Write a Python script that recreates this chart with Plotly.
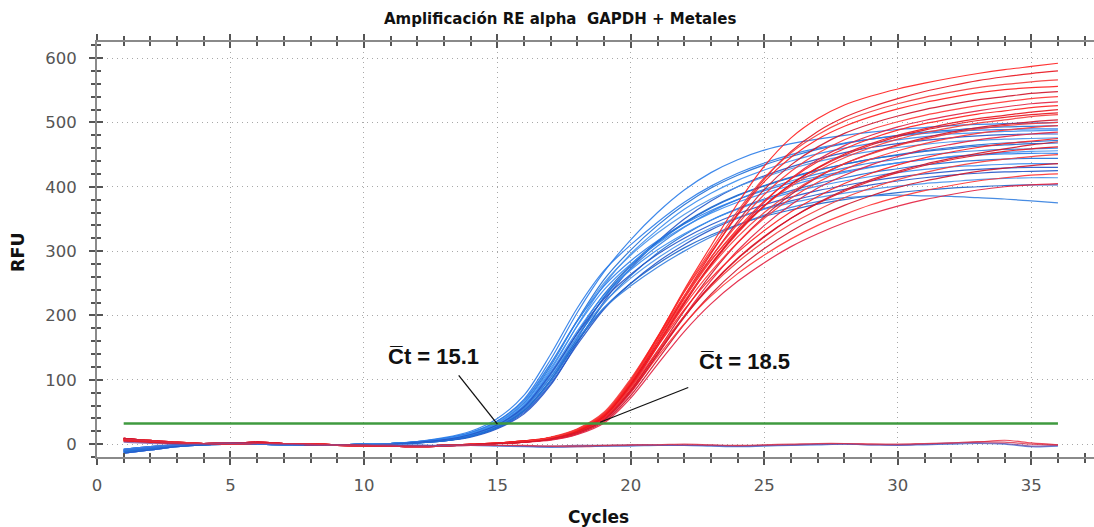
import plotly.graph_objects as go

# Amplification runs: RFU per cycle (cycles 1..36)
cycles = list(range(1, 37))

blue_runs = [
    [-10,-6,-2,0,1,0,-1,-1,-2,-1,1, 4,9,18,36,70,132,205,268,318,360,395,422,442,457,467,474,480,485,489,492,495,497,498,499,500],
    [-12,-7,-3,-1,1,1,0,-1,-1,0,1, 3,8,16,33,64,122,193,256,302,340,372,398,418,434,447,458,467,474,480,485,488,491,493,494,495],
    [-8,-4,-1,1,2,1,0,0,-1,0,1, 3,7,15,31,60,115,185,248,296,333,365,390,410,426,440,451,460,467,473,478,482,484,486,487,488],
    [-14,-9,-4,-1,0,1,0,-1,-2,-1,0, 2,5,11,24,47,92,158,222,274,315,350,378,400,417,431,443,453,461,467,472,476,479,481,482,482],
    [-10,-6,-2,0,1,0,-1,-1,-2,-1,1, 3,8,17,34,66,124,192,251,294,328,357,381,400,415,428,439,448,455,461,466,470,472,474,475,476],
    [-12,-7,-3,-1,1,1,0,-1,-1,0,1, 3,6,14,29,57,108,173,233,279,315,344,368,387,402,415,426,435,443,449,455,459,463,465,467,468],
    [-8,-4,-1,1,2,1,0,0,-1,0,1, 2,6,13,28,55,104,168,228,273,308,337,361,380,396,409,420,429,437,443,449,453,456,458,459,460],
    [-14,-9,-4,-1,0,1,0,-1,-2,-1,0, 4,9,18,36,68,126,192,246,285,316,342,363,380,394,406,416,424,431,437,442,446,449,451,452,452],
    [-10,-6,-2,0,1,0,-1,-1,-2,-1,1, 2,5,12,26,51,97,160,219,262,297,325,348,366,381,394,405,414,422,428,434,438,441,443,444,444],
    [-12,-7,-3,-1,1,1,0,-1,-1,0,1, 3,7,15,31,60,112,176,232,271,302,327,348,365,379,391,401,409,416,422,427,431,433,435,436,436],
    [-8,-4,-1,1,2,1,0,0,-1,0,1, 2,5,12,25,49,94,155,210,250,283,310,333,351,366,378,388,396,403,409,414,418,421,423,424,425],
    [-14,-9,-4,-1,0,1,0,-1,-2,-1,0, 3,7,15,30,58,108,168,220,258,289,315,336,352,365,375,383,390,396,401,405,408,411,413,414,414],
    [-10,-6,-2,0,1,0,-1,-1,-2,-1,1, 2,6,13,27,53,100,160,212,250,280,305,325,341,354,364,373,380,386,391,395,398,400,402,403,403],
    [-12,-7,-3,-1,1,1,0,-1,-1,0,1, 3,7,14,29,56,104,163,212,246,275,300,322,340,356,368,377,383,386,387,386,385,383,381,378,375],
    [-10,-6,-2,0,1,0,-1,-1,-2,-1,1, 4,10,20,40,76,140,212,270,310,345,376,401,421,437,450,460,468,474,479,483,486,488,489,490,490],
    [-12,-7,-3,-1,1,1,0,-1,-1,0,1, 2,5,12,26,52,100,165,229,277,313,343,367,386,401,414,425,435,443,450,456,461,465,468,470,472],
    [-8,-4,-1,1,2,1,0,0,-1,0,1, 3,8,16,33,63,118,184,240,280,312,338,359,376,390,402,413,422,430,437,442,447,450,453,455,456],
    [-14,-9,-4,-1,0,1,0,-1,-2,-1,0, 3,7,15,30,58,110,172,226,264,295,320,341,358,372,384,394,402,409,415,420,424,427,429,430,430],
]

red_runs = [
    [7,4,2,1,1,2,1,0,-1,-2,-3,-3,-2,-1,1,4, 10,22,46,98,166,240,308,374,432,476,506,527,541,552,561,569,576,582,587,592],
    [9,5,2,0,1,3,1,-1,-2,-2,-3,-4,-3,-1,1,3, 9,20,43,94,160,230,296,358,412,455,486,508,524,537,548,557,565,571,576,580],
    [5,3,1,1,2,2,0,0,-1,-1,-2,-3,-2,0,2,5, 10,22,47,100,167,238,302,362,414,453,481,502,517,529,539,547,554,559,563,566],
    [8,6,3,1,0,1,1,0,-2,-3,-3,-3,-2,-1,1,4, 9,21,44,94,160,228,290,346,396,434,462,483,498,510,520,528,535,540,545,548],
    [7,4,2,1,1,2,1,0,-1,-2,-3,-3,-2,-1,1,4, 10,23,48,99,164,230,290,342,388,424,452,473,489,501,511,519,526,532,537,540],
    [9,5,2,0,1,3,1,-1,-2,-2,-3,-4,-3,-1,1,3, 8,19,41,88,152,218,279,331,376,413,442,464,480,493,503,511,518,524,529,532],
    [5,3,1,1,2,2,0,0,-1,-1,-2,-3,-2,0,2,5, 10,22,46,96,160,226,285,335,378,412,439,459,475,488,498,506,513,518,523,526],
    [8,6,3,1,0,1,1,0,-2,-3,-3,-3,-2,-1,1,4, 9,20,42,90,154,219,278,328,370,404,430,451,467,480,490,499,506,511,516,520],
    [7,4,2,1,1,2,1,0,-1,-2,-3,-3,-2,-1,1,4, 11,24,50,102,166,230,286,332,370,401,425,445,461,474,484,492,499,504,509,512],
    [9,5,2,0,1,3,1,-1,-2,-2,-3,-4,-3,-1,1,3, 8,18,39,84,145,207,264,313,354,388,415,436,452,465,476,485,492,497,501,504],
    [5,3,1,1,2,2,0,0,-1,-1,-2,-3,-2,0,2,5, 9,21,44,92,154,215,268,313,351,382,407,427,443,456,467,476,483,488,492,495],
    [8,6,3,1,0,1,1,0,-2,-3,-3,-3,-2,-1,1,4, 7,17,37,80,139,199,254,301,340,372,398,418,434,447,458,466,473,478,482,485],
    [7,4,2,1,1,2,1,0,-1,-2,-3,-3,-2,-1,1,4, 10,22,45,93,152,209,258,298,332,361,385,405,421,434,445,454,461,467,471,475],
    [9,5,2,0,1,3,1,-1,-2,-2,-3,-4,-3,-1,1,3, 8,19,40,85,143,199,248,289,323,351,374,393,409,422,433,442,449,455,459,462],
    [5,3,1,1,2,2,0,0,-1,-1,-2,-3,-2,0,2,5, 9,20,42,88,145,199,245,283,315,342,364,383,398,411,422,431,438,443,447,450],
    [8,6,3,1,0,1,1,0,-2,-3,-3,-3,-2,-1,1,4, 7,16,35,76,131,186,233,272,304,331,353,371,386,399,409,417,424,429,433,436],
    [7,4,2,1,1,2,1,0,-1,-2,-3,-3,-2,-1,1,4, 8,18,39,82,136,187,230,265,294,319,340,357,372,384,394,402,409,414,418,420],
    [9,5,2,0,1,3,1,-1,-2,-2,-3,-4,-3,-1,1,3, 6,15,33,72,124,175,218,253,282,307,327,344,358,370,380,388,395,400,403,405],
    [7,4,2,1,1,2,1,0,-1,-2,-3,-3,-2,-1,1,4, 10,22,46,98,166,236,298,356,408,446,474,494,509,521,531,539,546,551,554,556],
    [5,3,1,1,2,2,0,0,-1,-1,-2,-3,-2,0,2,5, 9,20,43,92,156,221,280,330,371,404,429,449,465,478,488,496,503,508,512,515],
    [8,6,3,1,0,1,1,0,-2,-3,-3,-3,-2,-1,1,4, 10,23,48,98,160,222,276,322,360,391,416,436,451,464,474,483,490,495,498,500],
    [9,5,2,0,1,3,1,-1,-2,-2,-3,-4,-3,-1,1,3, 8,18,38,82,140,197,247,288,322,351,375,395,411,424,435,444,452,459,465,470],
]

# No-template controls that stay at baseline
control_runs = [
    [6,4,2,1,1,2,1,0,-1,-2,-3,-3,-2,-1,-2,-3,-4,-4,-3,-2,-2,-1,-2,-3,-2,-1,0,1,0,-1,0,1,3,6,2,-1],
    [-9,-5,-2,0,1,0,-1,-1,-2,-1,0,-1,-2,-2,-3,-4,-5,-4,-3,-3,-2,-2,-3,-4,-3,-2,-1,0,-1,-2,-1,0,1,0,-4,-3],
    [3,1,0,1,2,1,0,-1,-1,-2,-2,-3,-3,-2,-2,-3,-3,-2,-2,-1,-1,-2,-2,-3,-2,-1,0,0,-1,-1,0,2,2,1,-3,-2],
    [8,5,2,1,0,1,1,0,-2,-2,-3,-4,-3,-2,-2,-2,-3,-3,-2,-1,-1,0,-1,-2,-1,0,1,1,0,0,1,2,4,3,0,-1],
]
control_colors = ["#e8233a", "#3b6fd8", "#7a4a9e", "#d8304a"]

threshold_rfu = 32
threshold_span = [1, 36]
ct_labels = [("C\u0305t = 15.1", 15.1), ("C\u0305t = 18.5", 18.5)]

blue_palette = ["#2b7de9", "#1f6fd6", "#3a8df0", "#2456c8", "#4a94ea", "#1e63c9", "#3580e0"]
red_palette = ["#ff1e1e", "#e8141e", "#f53a3a", "#d0142a", "#ff3434", "#e42040"]

fig = go.Figure()

def add_run(run, color, opacity):
    fig.add_trace(go.Scatter(x=cycles, y=run, mode="lines",
                             line=dict(color=color, width=1.2, shape="spline", smoothing=0.9),
                             opacity=opacity, showlegend=False, hoverinfo="skip"))

for i, run in enumerate(blue_runs):
    add_run(run, blue_palette[i % len(blue_palette)], 0.9)
for i, run in enumerate(red_runs):
    add_run(run, red_palette[i % len(red_palette)], 0.9)
for run, col in zip(control_runs, control_colors):
    add_run(run, col, 0.8)

# Threshold line
fig.add_trace(go.Scatter(x=threshold_span, y=[threshold_rfu, threshold_rfu], mode="lines",
                         line=dict(color="#3f9a3f", width=2.5),
                         showlegend=False, hoverinfo="skip"))

# Ct call-outs: label position and leader line end points (cycle, RFU)
label_pos = [(12.6, 136), (24.25, 128)]
leader = [((13.55, 107), (15.0, 31)), ((22.15, 88), (18.85, 34))]
label_font = dict(family="Liberation Sans Narrow, Liberation Sans, Arial", size=22, color="#111")
for (txt, ct), (lx, ly), ((x0, y0), (x1, y1)) in zip(ct_labels, label_pos, leader):
    fig.add_annotation(x=lx, y=ly, text="<b>" + txt + "</b>", showarrow=False,
                       font=label_font, xanchor="center", yanchor="middle")
    fig.add_shape(type="line", x0=x0, y0=y0, x1=x1, y1=y1,
                  line=dict(color="#111", width=1.3))

axis_font = dict(family="DejaVu Sans, Verdana", size=16.5, color="#555")
common = dict(showline=True, linecolor="#8a8a8a", linewidth=2, ticks="outside",
              tickcolor="#555", tickwidth=1.5, ticklen=6, zeroline=False,
              showgrid=True, gridcolor="#a8a8a8", griddash="1px,4px", gridwidth=1.2,
              tickfont=axis_font)

fig.update_layout(
    width=1094, height=527,
    margin=dict(l=97, r=0, t=42, b=70),
    paper_bgcolor="white", plot_bgcolor="white",
    xaxis=dict(range=[0, 37.35], tick0=0, dtick=5, mirror="allticks",
               minor=dict(dtick=1, ticks="outside", ticklen=4, tickcolor="#555", showgrid=False),
               ticklabelstandoff=6, **common),
    yaxis=dict(range=[-20, 625], tick0=0, dtick=100,
               minor=dict(dtick=20, ticks="outside", ticklen=4, tickcolor="#555", showgrid=False),
               ticklabelstandoff=9, **common),
    xaxis2=dict(overlaying="x", matches="x", range=[0, 37.35], side="bottom",
                showline=False, showgrid=False, zeroline=False, ticks="inside",
                tick0=0, dtick=5, ticklen=6, tickwidth=1.5, tickcolor="#555", mirror="allticks",
                showticklabels=False,
                minor=dict(dtick=1, ticks="inside", ticklen=4, tickcolor="#555")),
    yaxis2=dict(overlaying="y", matches="y", range=[-20, 625], side="left",
                showline=False, showgrid=False, zeroline=False, ticks="inside",
                tick0=0, dtick=100, ticklen=6, tickwidth=1.5, tickcolor="#555",
                showticklabels=False,
                minor=dict(dtick=20, ticks="inside", ticklen=4, tickcolor="#555")),
)

# empty trace so the inside-tick axes are rendered
fig.add_trace(go.Scatter(x=[None], y=[None], xaxis="x2", yaxis="y2", showlegend=False, hoverinfo="skip"))

fig.add_annotation(text="<b>Amplificación RE alpha\u00a0 GAPDH + Metales</b>", xref="paper", yref="paper",
                   x=0.4644, y=1.0554, showarrow=False, xanchor="center", yanchor="middle",
                   font=dict(family="DejaVu Sans, Verdana", size=15, color="#111"))
fig.add_annotation(text="<b>RFU</b>", xref="paper", yref="paper", x=-0.0792, y=0.494,
                   showarrow=False, textangle=-90, xanchor="center", yanchor="middle",
                   font=dict(family="DejaVu Sans, Verdana", size=17.5, color="#111"))
fig.add_annotation(text="<b>Cycles</b>", xref="paper", yref="paper", x=0.5035, y=-0.1446,
                   showarrow=False, xanchor="center", yanchor="middle",
                   font=dict(family="DejaVu Sans, Verdana", size=17, color="#111"))

fig.write_html("out.html")
